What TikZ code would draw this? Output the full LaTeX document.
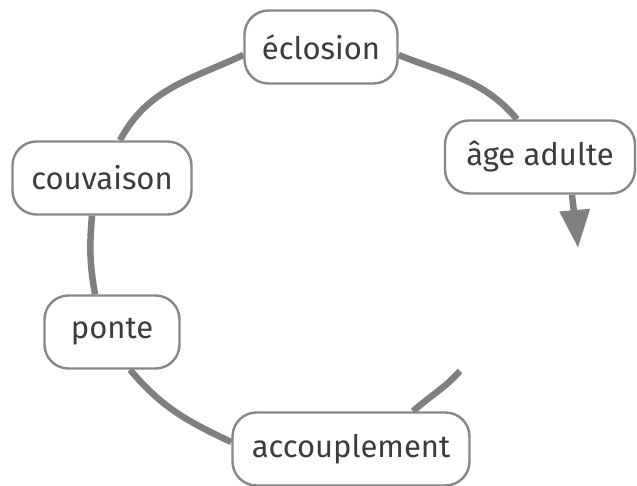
\documentclass[tikz,border=0pt]{standalone}
\usepackage{fontspec}
\setmainfont{Fira Sans}
\usetikzlibrary{arrows.meta,backgrounds}
\definecolor{cyclegray}{HTML}{808082}
\definecolor{boxgray}{HTML}{87878A}
\definecolor{textgray}{HTML}{3C3C3E}
\tikzset{
	stage/.style={draw=boxgray, line width=2.4pt, fill=white, rounded corners=24pt,
		minimum height=73pt, inner sep=0pt, text=textgray,
		font=\fontsize{31}{37}\selectfont},
	cycleline/.style={draw=cyclegray, line width=6.5pt},
}
\begin{document}
\begin{tikzpicture}[x=1pt, y=1pt]
			\useasboundingbox (0,0) rectangle (637,485);
			\node[stage, minimum width=153pt] (ecl) at (321,438) {éclosion};
			\node[stage, minimum width=190pt] (age) at (540,328) {âge adulte};
			\node[stage, minimum width=179pt] (couv) at (102,307) {couvaison};
			\node[stage, minimum width=135pt] (ponte) at (112,153) {ponte};
			\node[stage, minimum width=237pt] (acc) at (351,36) {accouplement};
			\coordinate (debut) at (460,114);
			\coordinate (fin) at (578,237);
			\begin{scope}[on background layer]
			\draw[cycleline] (debut) to[out=228, in=42] ([xshift=62pt]acc.north);
			\draw[cycleline] ([yshift=7pt]acc.west) to[out=155, in=-50] ([xshift=18pt]ponte.south);
			\draw[cycleline] ([xshift=-17pt]ponte.north) to[out=100, in=-95] ([xshift=-10pt]couv.south);
			\draw[cycleline] ([xshift=18pt]couv.north) to[out=62, in=-155] ([yshift=-8pt]ecl.west);
			\draw[cycleline] ([yshift=-8pt]ecl.east) to[out=-22, in=130] ([xshift=-23pt]age.north);
			\draw[cycleline, -{Triangle[length=38pt, width=29pt]}] ([xshift=32pt]age.south) to[out=-84, in=95] (fin);
			\end{scope}
\end{tikzpicture}
\end{document}
